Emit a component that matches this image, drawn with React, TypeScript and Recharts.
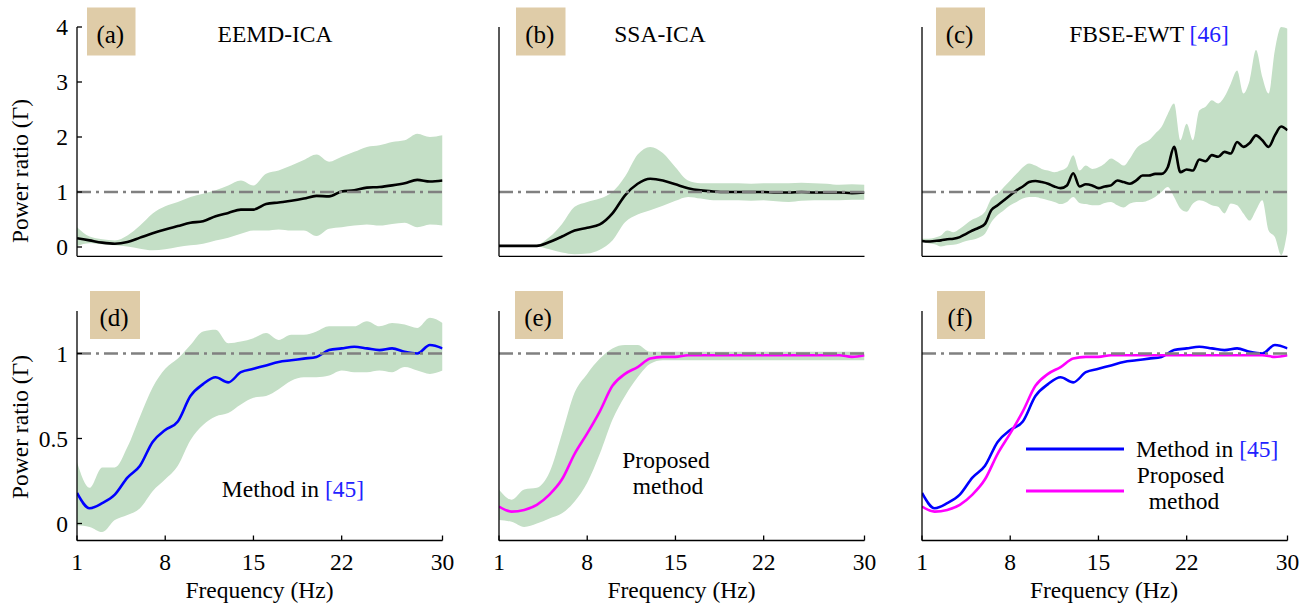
import React from 'react';
import { ComposedChart, Area, Line, XAxis, YAxis, ReferenceLine } from 'recharts';

// ---------- data ----------
const freq = [1, 2, 3, 4, 5, 6, 7, 8, 9, 10, 11, 12, 13, 14, 15, 16, 17, 18, 19, 20, 21, 22, 23, 24, 25, 26, 27, 28, 29, 30];
const cFreq = [1, 1.5, 2, 2.5, 3, 3.5, 4, 4.5, 5, 5.5, 6, 6.5, 7, 7.5, 8, 8.5, 9, 9.5, 10, 10.5, 11, 11.5, 12, 12.5, 13, 13.5, 14, 14.5, 15, 15.5, 16, 16.5, 17, 17.5, 18, 18.5, 19, 19.5, 20, 20.5, 21, 21.5, 22, 22.5, 23, 23.5, 24, 24.5, 25, 25.5, 26, 26.5, 27, 27.5, 28, 28.5, 29, 29.5, 30];

// (a) EEMD-ICA
const aMean = [0.16, 0.12, 0.08, 0.06, 0.09, 0.17, 0.25, 0.32, 0.38, 0.44, 0.47, 0.56, 0.62, 0.68, 0.68, 0.78, 0.81, 0.84, 0.88, 0.93, 0.92, 1.01, 1.03, 1.08, 1.09, 1.12, 1.16, 1.22, 1.19, 1.21];
const aHi = [0.36, 0.19, 0.14, 0.12, 0.21, 0.39, 0.61, 0.74, 0.82, 0.91, 0.97, 1.03, 1.12, 1.21, 1.12, 1.33, 1.39, 1.48, 1.58, 1.68, 1.55, 1.64, 1.73, 1.82, 1.85, 1.91, 1.94, 2.06, 2.0, 2.03];
const aLo = [0.02, 0.07, 0.05, 0.03, 0.01, -0.03, -0.06, -0.04, 0.0, 0.03, 0.06, 0.12, 0.17, 0.24, 0.3, 0.3, 0.32, 0.3, 0.3, 0.2, 0.33, 0.36, 0.39, 0.41, 0.39, 0.42, 0.44, 0.36, 0.41, 0.39];

// (b) SSA-ICA
const bMean = [0.02, 0.02, 0.02, 0.02, 0.09, 0.19, 0.3, 0.35, 0.41, 0.61, 0.94, 1.15, 1.24, 1.21, 1.14, 1.07, 1.03, 1.01, 1.0, 1.0, 1.0, 1.0, 0.99, 0.99, 1.0, 0.99, 0.99, 0.99, 0.98, 0.99];
const bHi = [0.03, 0.03, 0.03, 0.04, 0.18, 0.42, 0.73, 0.82, 0.88, 1.0, 1.28, 1.68, 1.82, 1.71, 1.45, 1.21, 1.16, 1.16, 1.16, 1.16, 1.15, 1.16, 1.16, 1.16, 1.17, 1.16, 1.15, 1.13, 1.14, 1.13];
const bLo = [0.01, 0.01, 0.01, 0.01, -0.04, -0.1, -0.13, -0.12, -0.05, 0.12, 0.45, 0.59, 0.67, 0.75, 0.84, 0.91, 0.88, 0.85, 0.85, 0.85, 0.84, 0.85, 0.83, 0.82, 0.84, 0.85, 0.85, 0.85, 0.86, 0.86];

// (c) FBSE-EWT
const cMean = [
  0.11, 0.1, 0.11, 0.12, 0.14, 0.15, 0.18, 0.24, 0.3, 0.35,
  0.42, 0.67, 0.76, 0.85, 0.94, 1.03, 1.1, 1.18, 1.2, 1.18,
  1.15, 1.1, 1.07, 1.12, 1.34, 1.1, 1.14, 1.12, 1.07, 1.1,
  1.12, 1.21, 1.18, 1.15, 1.21, 1.3, 1.3, 1.33, 1.33, 1.45,
  1.82, 1.36, 1.41, 1.39, 1.59, 1.56, 1.67, 1.64, 1.73, 1.7,
  1.91, 1.82, 1.89, 2.03, 1.94, 1.82, 2.03, 2.19, 2.12,
];
const cHi = [
  0.15, 0.15, 0.17, 0.21, 0.3, 0.27, 0.33, 0.42, 0.5, 0.55,
  0.64, 0.88, 0.97, 1.09, 1.21, 1.33, 1.45, 1.52, 1.48, 1.42,
  1.39, 1.36, 1.39, 1.45, 1.67, 1.39, 1.48, 1.42, 1.45, 1.52,
  1.61, 1.55, 1.48, 1.61, 1.79, 1.88, 1.94, 2.06, 2.18, 2.42,
  2.61, 1.94, 2.24, 1.94, 2.48, 2.55, 2.67, 2.61, 2.73, 2.97,
  3.21, 2.79, 3.03, 3.58, 3.09, 2.79, 3.58, 4.0, 3.97,
];
const cLo = [
  0.09, 0.07, 0.05, 0.01, 0.03, 0.04, 0.07, 0.11, 0.13, 0.17,
  0.24, 0.45, 0.58, 0.67, 0.76, 0.82, 0.88, 0.91, 0.91, 0.88,
  0.85, 0.82, 0.78, 0.82, 0.91, 0.8, 0.78, 0.76, 0.76, 0.8,
  0.82, 0.76, 0.72, 0.79, 0.82, 0.82, 0.85, 0.91, 1.0, 1.09,
  0.91, 0.7, 0.64, 0.79, 0.85, 0.82, 0.76, 0.73, 0.61, 0.79,
  0.76, 0.61, 0.48, 0.67, 0.85, 0.3, 0.18, -0.15, 0.3,
];

// (d) Method in [45]
const dMean = [0.18, 0.09, 0.12, 0.17, 0.27, 0.34, 0.48, 0.55, 0.6, 0.75, 0.82, 0.86, 0.83, 0.89, 0.91, 0.93, 0.95, 0.96, 0.97, 0.98, 1.02, 1.03, 1.04, 1.03, 1.02, 1.03, 1.01, 1.0, 1.05, 1.03];
const dHi = [0.36, 0.21, 0.33, 0.33, 0.45, 0.63, 0.8, 0.91, 0.97, 1.05, 1.13, 1.14, 1.06, 1.07, 1.09, 1.12, 1.08, 1.11, 1.11, 1.13, 1.16, 1.16, 1.16, 1.19, 1.16, 1.18, 1.17, 1.15, 1.21, 1.18];
const dLo = [-0.01, -0.02, -0.05, 0.02, 0.05, 0.09, 0.19, 0.26, 0.34, 0.49, 0.58, 0.63, 0.65, 0.7, 0.74, 0.75, 0.79, 0.84, 0.86, 0.86, 0.87, 0.9, 0.89, 0.89, 0.9, 0.89, 0.92, 0.9, 0.88, 0.9];

// (e) Proposed method
const eMean = [0.1, 0.07, 0.08, 0.11, 0.17, 0.26, 0.41, 0.53, 0.66, 0.81, 0.88, 0.92, 0.97, 0.98, 0.98, 0.99, 0.99, 0.99, 0.99, 0.99, 0.99, 0.99, 0.99, 0.99, 0.99, 0.99, 0.99, 0.99, 0.98, 0.99];
const eHi = [0.2, 0.14, 0.2, 0.21, 0.3, 0.53, 0.77, 0.88, 0.97, 1.03, 1.05, 1.05, 1.01, 1.01, 1.01, 1.01, 1.01, 1.01, 1.01, 1.01, 1.01, 1.01, 1.01, 1.01, 1.01, 1.01, 1.01, 1.01, 1.01, 1.01];
const eLo = [0.02, 0.01, -0.02, 0.0, 0.03, 0.06, 0.13, 0.24, 0.41, 0.61, 0.75, 0.86, 0.94, 0.96, 0.96, 0.96, 0.96, 0.96, 0.96, 0.96, 0.96, 0.96, 0.96, 0.96, 0.96, 0.96, 0.96, 0.96, 0.96, 0.96];

const xTicks = [1, 8, 15, 22, 30];
const topYTicks = [0, 1, 2, 3, 4];
const bottomYTicks = [0, 0.5, 1];

// ---------- styles ----------
const FONT = '"Liberation Serif", "Times New Roman", Times, serif';
const FS = 23.5;
const BAND = '#c4dfc6';
const TAN = '#dfcca8';
const BLUE = '#0000ff';
const MAGENTA = '#ff00ff';
const REFBLUE = '#2222ff';

type Row = { f: number; band?: [number, number]; m1: number; m2?: number };

const rows = (f: number[], lo: number[] | null, m1: number[], hi: number[] | null, m2?: number[]): Row[] =>
  f.map((x, i) => ({
    f: x,
    band: lo && hi ? [lo[i], hi[i]] : undefined,
    m1: m1[i],
    m2: m2 ? m2[i] : undefined,
  }));

const dataA = rows(freq, aLo, aMean, aHi);
const dataB = rows(freq, bLo, bMean, bHi);
const dataC = rows(cFreq, cLo, cMean, cHi);
const dataD = rows(freq, dLo, dMean, dHi);
const dataE = rows(freq, eLo, eMean, eHi);
const dataF = rows(freq, null, dMean, null, eMean);

const YW = 60;
const MT = 20;
const XH = 50;
const MR = 12;

type PanelProps = {
  left: number;
  top: number;
  w: number;
  h: number;
  data: Row[];
  yDomain: [number, number];
  yTicks: number[];
  showX: boolean;
  showY: boolean;
  hasBand: boolean;
  c1: string;
  c2?: string;
  curve: 'linear' | 'monotone';
};

function Panel(p: PanelProps) {
  const tickStyle = { fill: '#000', fontSize: FS, fontFamily: FONT };
  return (
    <div style={{ position: 'absolute', left: p.left - YW, top: p.top - MT }}>
      <ComposedChart
        width={p.w + YW + MR}
        height={p.h + MT + XH}
        data={p.data}
        margin={{ top: MT, right: MR, left: 0, bottom: 0 }}
      >
        <XAxis
          dataKey="f"
          type="number"
          domain={[1, 30]}
          ticks={xTicks}
          interval={0}
          allowDataOverflow
          height={XH}
          tickSize={-5}
          tickMargin={18}
          tick={p.showX ? tickStyle : false}
          axisLine={{ stroke: '#000', strokeWidth: 1.3 }}
          tickLine={{ stroke: '#000', strokeWidth: 1.3 }}
        />
        <YAxis
          type="number"
          domain={p.yDomain}
          ticks={p.yTicks}
          interval={0}
          allowDataOverflow
          width={YW}
          tickSize={-5}
          tickMargin={14}
          tick={p.showY ? tickStyle : false}
          axisLine={{ stroke: '#000', strokeWidth: 1.3 }}
          tickLine={{ stroke: '#000', strokeWidth: 1.3 }}
        />
        {p.hasBand && (
          <Area
            dataKey="band"
            type={p.curve}
            stroke="none"
            fill={BAND}
            fillOpacity={1}
            isAnimationActive={false}
            activeDot={false}
            dot={false}
          />
        )}
        <Line
          dataKey="m1"
          type={p.curve}
          stroke={p.c1}
          strokeWidth={2.6}
          dot={false}
          activeDot={false}
          isAnimationActive={false}
        />
        {p.c2 && (
          <Line
            dataKey="m2"
            type={p.curve}
            stroke={p.c2}
            strokeWidth={2.6}
            dot={false}
            activeDot={false}
            isAnimationActive={false}
          />
        )}
        <ReferenceLine y={1} stroke="#808080" strokeWidth={2.6} strokeDasharray="14 5 3 5" />
      </ComposedChart>
    </div>
  );
}

const txt = { fontFamily: FONT, fontSize: FS, fill: '#000' } as const;

function Overlay() {
  const boxes = [
    { x: 87, y: 7.5, w: 48.5, label: '(a)' },
    { x: 516, y: 7.5, w: 49.5, label: '(b)' },
    { x: 936, y: 7.5, w: 49, label: '(c)' },
    { x: 90, y: 291, w: 50, label: '(d)' },
    { x: 515, y: 291, w: 48, label: '(e)' },
    { x: 937, y: 291, w: 48, label: '(f)' },
  ];
  return (
    <svg
      width={1316}
      height={606}
      style={{ position: 'absolute', left: 0, top: 0, pointerEvents: 'none' }}
    >
      {boxes.map((b) => (
        <g key={b.label}>
          <rect x={b.x} y={b.y} width={b.w} height={48} fill={TAN} />
          <text
            x={b.x + b.w / 2 - 1}
            y={b.y + 35}
            textAnchor="middle"
            style={{ ...txt, fontSize: 25 }}
          >
            {b.label}
          </text>
        </g>
      ))}
      {/* titles */}
      <text x={275} y={41.7} textAnchor="middle" style={txt}>EEMD-ICA</text>
      <text x={660} y={41.7} textAnchor="middle" style={txt}>SSA-ICA</text>
      <text x={1149} y={41.7} textAnchor="middle" style={txt}>
        FBSE-EWT <tspan fill={REFBLUE}>[46]</tspan>
      </text>
      {/* y labels */}
      <text x={28} y={171} textAnchor="middle" transform="rotate(-90 28 171)" style={txt}>
        Power ratio (Γ)
      </text>
      <text x={28} y={427} textAnchor="middle" transform="rotate(-90 28 427)" style={txt}>
        Power ratio (Γ)
      </text>
      {/* x labels */}
      <text x={259.5} y={598} textAnchor="middle" style={txt}>Frequency (Hz)</text>
      <text x={681.5} y={598} textAnchor="middle" style={txt}>Frequency (Hz)</text>
      <text x={1104} y={598} textAnchor="middle" style={txt}>Frequency (Hz)</text>
      {/* panel annotations */}
      <text x={293} y={496.5} textAnchor="middle" style={txt}>
        Method in <tspan fill={REFBLUE}>[45]</tspan>
      </text>
      <text x={666} y={467.5} textAnchor="middle" style={txt}>Proposed</text>
      <text x={668} y={493.5} textAnchor="middle" style={txt}>method</text>
      {/* legend (f) */}
      <line x1={1026} y1={449} x2={1124} y2={449} stroke={BLUE} strokeWidth={3} />
      <line x1={1026} y1={491} x2={1124} y2={491} stroke={MAGENTA} strokeWidth={3} />
      <text x={1136} y={456.5} style={txt}>
        Method in <tspan fill={REFBLUE}>[45]</tspan>
      </text>
      <text x={1180.5} y={482.5} textAnchor="middle" style={txt}>Proposed</text>
      <text x={1184} y={509} textAnchor="middle" style={txt}>method</text>
    </svg>
  );
}

const TOP_Y = 26.7;
const TOP_H = 229.35;
const BOT_Y = 310.8;
const BOT_H = 229.5;
const PW = 365.5;

export default function App() {
  return (
    <div style={{ position: 'absolute', left: 0, top: 0, width: 1316, height: 606, background: '#fff', overflow: 'hidden' }}>
      <Panel left={77} top={TOP_Y} w={PW} h={TOP_H} data={dataA} yDomain={[-0.17, 4]} yTicks={topYTicks} showX={false} showY={true} hasBand c1="#000" curve="monotone" />
      <Panel left={499} top={TOP_Y} w={PW} h={TOP_H} data={dataB} yDomain={[-0.17, 4]} yTicks={topYTicks} showX={false} showY={false} hasBand c1="#000" curve="monotone" />
      <Panel left={921.7} top={TOP_Y} w={PW} h={TOP_H} data={dataC} yDomain={[-0.17, 4]} yTicks={topYTicks} showX={false} showY={false} hasBand c1="#000" curve="monotone" />
      <Panel left={77} top={BOT_Y} w={PW} h={BOT_H} data={dataD} yDomain={[-0.1, 1.25]} yTicks={bottomYTicks} showX={true} showY={true} hasBand c1={BLUE} curve="monotone" />
      <Panel left={499} top={BOT_Y} w={PW} h={BOT_H} data={dataE} yDomain={[-0.1, 1.25]} yTicks={bottomYTicks} showX={true} showY={false} hasBand c1={MAGENTA} curve="monotone" />
      <Panel left={921.7} top={BOT_Y} w={PW} h={BOT_H} data={dataF} yDomain={[-0.1, 1.25]} yTicks={bottomYTicks} showX={true} showY={false} hasBand={false} c1={BLUE} c2={MAGENTA} curve="monotone" />
      <Overlay />
    </div>
  );
}
